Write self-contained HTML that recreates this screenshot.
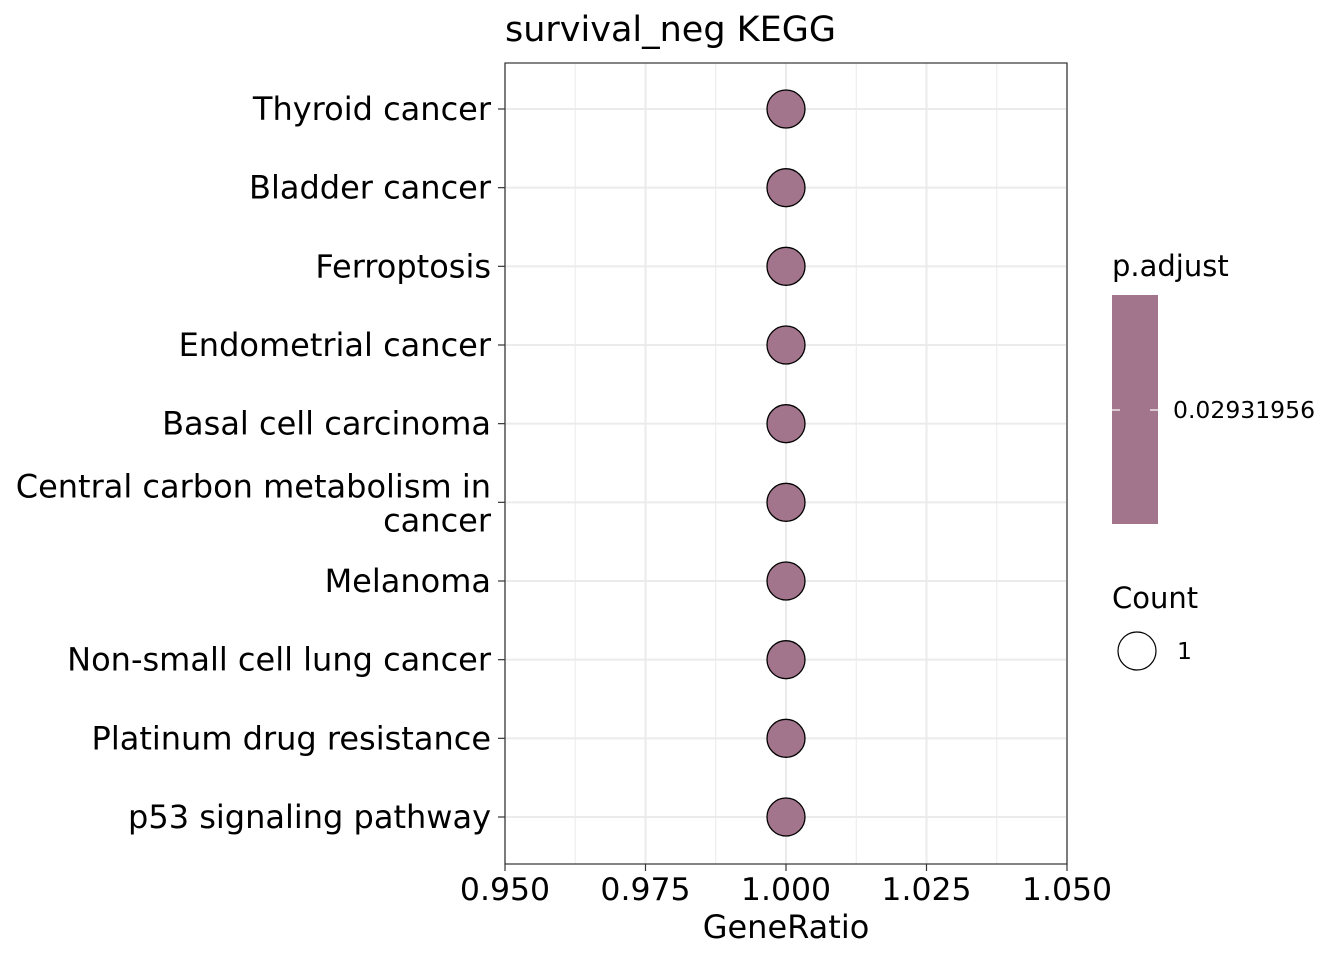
<!DOCTYPE html>
<html><head><meta charset="utf-8"><style>
html,body{margin:0;padding:0;background:#fff}
svg text{font-family:"DejaVu Sans","Liberation Sans",sans-serif}
</style></head><body>
<svg id="chart" width="1344" height="960" viewBox="0 0 1344 960" xmlns="http://www.w3.org/2000/svg">
<text x="505" y="41" font-size="35" fill="#000">survival_neg KEGG</text>
<g id="grid"></g>
<g id="points"></g>
<rect x="505" y="63" width="562" height="801" fill="none" stroke="#333" stroke-width="1.2"/>
<g id="yaxis"></g>
<g id="xaxis"></g>
<text x="786" y="938" font-size="32" text-anchor="middle" fill="#000">GeneRatio</text>
<g>
<text x="1112" y="276" font-size="29" fill="#000">p.adjust</text>
<rect x="1112" y="295" width="46" height="229" fill="#A3758C"/>
<line x1="1112" y1="410" x2="1120" y2="410" stroke="#fff" stroke-width="1.2"/>
<line x1="1150" y1="410" x2="1158" y2="410" stroke="#fff" stroke-width="1.2"/>
<text x="1173" y="418" font-size="23.5" fill="#000">0.02931956</text>
<text x="1112" y="608" font-size="29" fill="#000">Count</text>
<circle cx="1137" cy="651" r="19" fill="none" stroke="#000" stroke-width="1.2"/>
<text x="1177" y="659" font-size="23.5" fill="#000">1</text>
</g>
</svg>
<script>
const categories=["Thyroid cancer","Bladder cancer","Ferroptosis","Endometrial cancer","Basal cell carcinoma","Central carbon metabolism in|cancer","Melanoma","Non-small cell lung cancer","Platinum drug resistance","p53 signaling pathway"];
const geneRatio=[1,1,1,1,1,1,1,1,1,1];
const xTicks=[0.95,0.975,1.0,1.025,1.05];
const xTickLabels=["0.950","0.975","1.000","1.025","1.050"];
const NS="http://www.w3.org/2000/svg";
const x=v=>505+(v-0.95)/(0.1)*562;
const y=i=>109+i*(817-109)/(categories.length-1);
function mk(tag,attrs,parent){const e=document.createElementNS(NS,tag);for(const k in attrs)e.setAttribute(k,attrs[k]);document.getElementById(parent).appendChild(e);return e;}
for(let i=0;i<xTicks.length-1;i++){const m=(xTicks[i]+xTicks[i+1])/2;
const l=mk('line',{x1:x(m),x2:x(m),y1:63,y2:864,stroke:'#ebebeb','stroke-width':1},'grid');

}
xTicks.forEach((t,i)=>{
const g=mk('line',{x1:x(t),x2:x(t),y1:63,y2:864,stroke:'#ebebeb','stroke-width':2},'grid');


const tk=mk('line',{x1:x(t),x2:x(t),y1:864,y2:871,stroke:'#333','stroke-width':1.2},'xaxis');


const tx=mk('text',{x:x(t),y:900,'font-size':31.5,'text-anchor':'middle',fill:'#000'},'xaxis');
tx.textContent=xTickLabels[i];

});
categories.forEach((c,i)=>{
const yy=y(i);
const g=mk('line',{x1:505,x2:1067,y1:yy,y2:yy,stroke:'#ebebeb','stroke-width':2},'grid');


const tk=mk('line',{x1:498,x2:505,y1:yy,y2:yy,stroke:'#333','stroke-width':1.2},'yaxis');


const parts=c.split('|');
parts.forEach((p,j)=>{
const off=parts.length>1?(j===0?-5:29):11;
const tx=mk('text',{x:491,y:yy+off,'font-size':32,'text-anchor':'end',fill:'#000'},'yaxis');
tx.textContent=p;

});
const pt=mk('circle',{cx:x(geneRatio[i]),cy:yy,r:19,fill:'#A3758C',stroke:'#000','stroke-width':1.3},'points');

});
</script>
</body></html>
